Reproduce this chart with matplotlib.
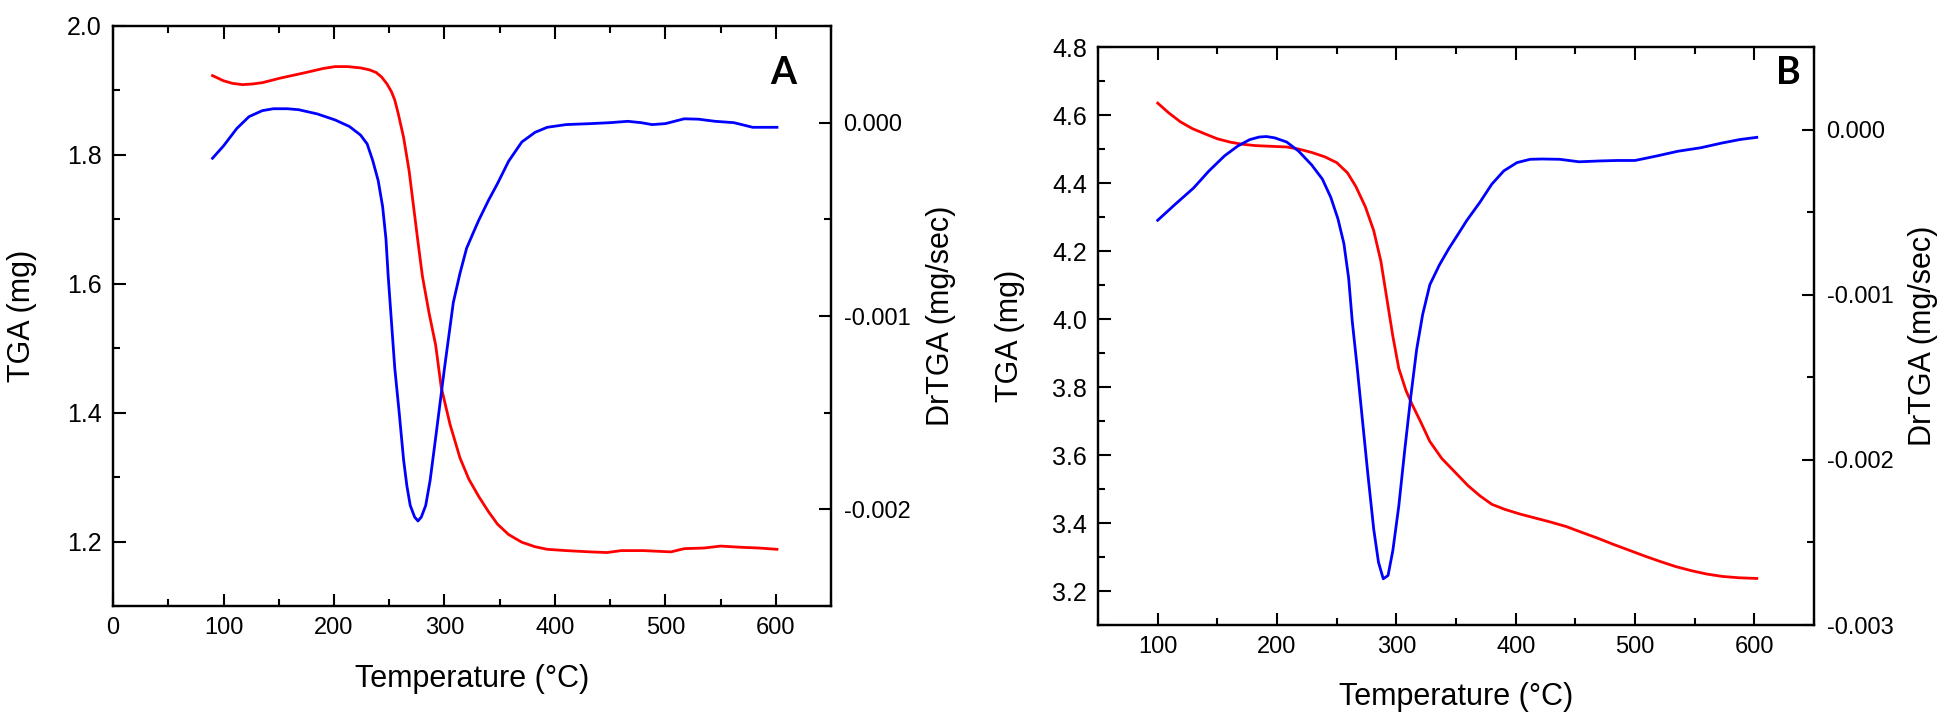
import numpy as np
import matplotlib
matplotlib.use("Agg")
import matplotlib.pyplot as plt
from matplotlib.ticker import MultipleLocator, FormatStrFormatter

plt.rcParams["font.family"] = ["Liberation Sans", "DejaVu Sans"]
plt.rcParams["axes.unicode_minus"] = False

# ---- panel A data ----
a_tga_temp = [90, 100, 108, 117, 126, 135, 151, 175, 190, 201, 212, 224, 232, 238, 243, 248, 252,
              255, 258, 263, 268, 272, 276, 280, 286, 292, 297, 305, 314, 322, 331, 340, 348, 358,
              370, 382, 393, 410, 432, 447, 460, 480, 505, 517, 535, 550, 570, 585, 601]
a_tga = [1.923, 1.915, 1.911, 1.909, 1.91, 1.912, 1.919, 1.928, 1.934, 1.937, 1.937, 1.935, 1.932,
         1.928, 1.921, 1.91, 1.898, 1.885, 1.865, 1.827, 1.775, 1.72, 1.665, 1.612, 1.555, 1.505,
         1.44, 1.382, 1.33, 1.297, 1.27, 1.246, 1.227, 1.211, 1.199, 1.192, 1.188, 1.186, 1.184,
         1.183, 1.186, 1.186, 1.184, 1.189, 1.19, 1.193, 1.191, 1.19, 1.188]

a_dtg_temp = [90, 100, 112, 123, 135, 145, 158, 168, 185, 201, 214, 224, 230, 235, 240, 244, 247,
              249, 252, 255, 259, 263, 266, 269, 273, 276, 279, 283, 287, 292, 296, 300, 304, 308,
              314, 320, 326, 331, 340, 348, 358, 370, 382, 393, 410, 432, 450, 466, 478, 488, 500,
              517, 530, 545, 562, 579, 601]
a_dtg = [-0.000184, -0.00012, -0.00003, 0.000031, 0.000062, 0.000072, 0.000072, 0.000067, 0.000045,
         0.000014, -0.00002, -0.000064, -0.00011, -0.000195, -0.0003, -0.000434, -0.0006,
         -0.00079, -0.00103, -0.00127, -0.0015, -0.001745, -0.00188, -0.00198, -0.00204, -0.00206,
         -0.00204, -0.00198, -0.00185, -0.00163, -0.00145, -0.00127, -0.0011, -0.00093,
         -0.00078, -0.00065, -0.00057, -0.000505, -0.0004, -0.000315, -0.0002, -0.0001, -0.00005,
         -0.000024, -0.00001, -0.000005, 0.0, 0.000007, 0.0, -0.00001, -0.000005,
         0.00002, 0.000018, 0.000007, 0.0, -0.000024, -0.000024]

# ---- panel B data ----
b_tga_temp = [100, 109, 119, 129, 140, 150, 161, 171, 182, 195, 208, 218, 229, 240, 250, 259, 266,
              274, 281, 287, 292, 297, 302, 308, 313, 320, 328, 338, 349, 360, 370, 380, 391, 404,
              416, 429, 442, 455, 469, 482, 495, 508, 521, 534, 547, 560, 573, 587, 602]
b_tga = [4.635, 4.607, 4.58, 4.56, 4.544, 4.53, 4.52, 4.514, 4.51, 4.508, 4.506, 4.5, 4.49, 4.477,
         4.46, 4.43, 4.39, 4.33, 4.26, 4.17, 4.06, 3.95, 3.855, 3.79, 3.75, 3.7, 3.64, 3.59, 3.55,
         3.51, 3.48, 3.455, 3.44, 3.426, 3.415, 3.403, 3.39, 3.373, 3.355, 3.337, 3.32, 3.303,
         3.287, 3.272, 3.26, 3.25, 3.243, 3.239, 3.237]

b_dtg_temp = [100, 115, 130, 143, 156, 167, 177, 185, 191, 198, 208, 218, 229, 238, 245, 251, 256,
              260, 263, 267, 271, 276, 281, 285, 289, 293, 297, 302, 307, 312, 317, 322, 328, 336,
              344, 352, 359, 370, 380, 390, 401, 412, 422, 437, 453, 470, 485, 500, 518, 536, 555,
              573, 588, 602]
b_dtg = [-0.000549, -0.00045, -0.000354, -0.00025, -0.000159, -0.0001, -0.000061, -0.000045,
         -0.000042, -0.00005, -0.000075, -0.00013, -0.000214, -0.0003, -0.00041, -0.00054, -0.00069,
         -0.0009, -0.00116, -0.00143, -0.00172, -0.00208, -0.00242, -0.00262, -0.00272, -0.0027,
         -0.00255, -0.00228, -0.00194, -0.00162, -0.00133, -0.00112, -0.00094, -0.00082,
         -0.00072, -0.00063, -0.00055, -0.00044, -0.00033, -0.00025, -0.0002, -0.00018,
         -0.000178, -0.00018, -0.000195, -0.00019, -0.000187, -0.000187, -0.00016, -0.000131,
         -0.00011, -0.000081, -0.00006, -0.000047]

RED = "#ff0000"
BLUE = "#0000ff"


def style_axes(ax, ax2):
    for a in (ax, ax2):
        for s in a.spines.values():
            s.set_linewidth(1.6)
    ax.tick_params(axis="both", which="both", direction="in", width=1.5,
                   top=True, right=False, pad=8)
    ax.tick_params(axis="y", labelsize=18)
    ax.tick_params(axis="x", labelsize=17)
    ax.tick_params(which="major", length=9)
    ax.tick_params(which="minor", length=5)
    ax2.tick_params(axis="y", which="both", direction="in", width=1.5, labelsize=17, pad=9)
    ax2.tick_params(which="major", length=9)
    ax2.tick_params(which="minor", length=5)
    ax2.yaxis.set_major_formatter(FormatStrFormatter("%.3f"))
    ax2.yaxis.set_major_locator(MultipleLocator(0.001))
    ax2.yaxis.set_minor_locator(MultipleLocator(0.0005))
    ax.xaxis.set_minor_locator(MultipleLocator(50))
    ax.yaxis.set_minor_locator(MultipleLocator(0.1))
    ax.yaxis.set_major_formatter(FormatStrFormatter("%.1f"))
    ax.set_xlabel("Temperature (°C)", fontsize=22)
    ax.set_ylabel("TGA (mg)", fontsize=22)
    ax2.set_ylabel("DrTGA (mg/sec)", fontsize=22)


fig = plt.figure(figsize=(19.5, 7.2), dpi=100)

# Panel A
axA = fig.add_axes([0.058, 0.1583, 0.3682, 0.8056])
axA2 = axA.twinx()
axA.plot(a_tga_temp, a_tga, color=RED, lw=2)
axA2.plot(a_dtg_temp, a_dtg, color=BLUE, lw=2)
axA.set_xlim(0, 650)
axA.set_ylim(1.1, 2.0)
axA.set_xticks(range(0, 601, 100))
axA.set_yticks(np.arange(1.2, 2.01, 0.2))
axA2.set_ylim(-0.0025, 0.0005)
style_axes(axA, axA2)
axA.yaxis.set_label_coords(-0.106, 0.5)
axA2.yaxis.set_label_coords(1.132, 0.5)
axA.xaxis.set_label_coords(0.5, -0.1)
axA.text(0.933, 0.919, "A", transform=axA.transAxes, fontsize=27, fontweight="bold",
         family="Lato", ha="center", va="center")

# Panel B
axB = fig.add_axes([0.5631, 0.1319, 0.3672, 0.8028])
axB2 = axB.twinx()
axB.plot(b_tga_temp, b_tga, color=RED, lw=2)
axB2.plot(b_dtg_temp, b_dtg, color=BLUE, lw=2)
axB.set_xlim(50, 650)
axB.set_ylim(3.1, 4.8)
axB.set_xticks(range(100, 601, 100))
axB.set_yticks(np.arange(3.2, 4.81, 0.2))
axB2.set_ylim(-0.003, 0.0005)
style_axes(axB, axB2)
axB.yaxis.set_label_coords(-0.102, 0.5)
axB2.yaxis.set_label_coords(1.131, 0.5)
axB.xaxis.set_label_coords(0.5, -0.099)
axB.text(0.964, 0.955, "B", transform=axB.transAxes, fontsize=27, fontweight="bold",
         family="Lato", ha="center", va="center")

fig.savefig("out.png", dpi=100)
